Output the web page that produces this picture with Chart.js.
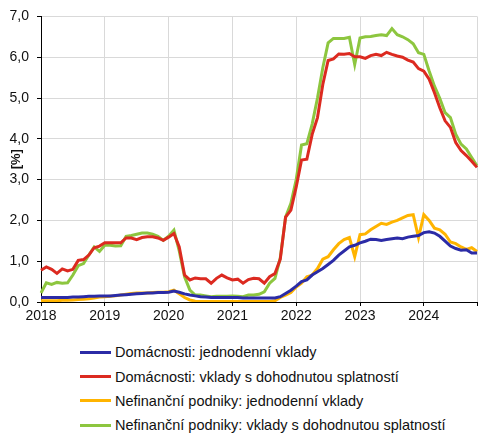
<!DOCTYPE html>
<html>
<head>
<meta charset="utf-8">
<script src="https://cdn.jsdelivr.net/npm/chart.js@4/dist/chart.umd.min.js"></script>
<style>
  body { margin: 0; background: #fff; font-family: "Liberation Sans", Arial, sans-serif; }
  #wrap { position: relative; width: 495px; height: 442px; }
  #legend { position: absolute; left: 80px; top: 340px; }
  .item { height: 24.4px; display: flex; align-items: center; font-size: 14.5px; color: #111; }
  .swatch { width: 31px; height: 3px; margin-right: 4px; }
</style>
</head>
<body>
<div id="wrap">
  <canvas id="myChart" width="495" height="330"></canvas>
  <div id="legend"></div>
</div>
<script>
// monthly data, Jan 2018 - Nov 2024
const startYear = 2018;
const monthCount = 83;
const months = [];
for (let i = 0; i < monthCount; i++) {
  const y = startYear + Math.floor(i / 12);
  const m = (i % 12) + 1;
  months.push(y + "-" + (m < 10 ? "0" + m : m));
}

const seriesNames = [
  "Domácnosti: jednodenní vklady",
  "Domácnosti: vklady s dohodnutou splatností",
  "Nefinanční podniky: jednodenní vklady",
  "Nefinanční podniky: vklady s dohodnutou splatností",
];

const hhOvernight = [
  0.11, 0.11, 0.11, 0.11, 0.11, 0.11, 0.12, 0.12, 0.13, 0.14, 0.14, 0.15,
  0.15, 0.15, 0.16, 0.17, 0.18, 0.19, 0.20, 0.21, 0.22, 0.22, 0.23, 0.23,
  0.24, 0.27, 0.24, 0.20, 0.17, 0.15, 0.13, 0.12, 0.11, 0.11, 0.11, 0.11,
  0.11, 0.11, 0.10, 0.10, 0.10, 0.10, 0.10, 0.10, 0.10, 0.13, 0.21, 0.29,
  0.39, 0.50, 0.54, 0.66, 0.74, 0.82, 0.92, 1.02, 1.15, 1.25, 1.35, 1.39,
  1.45, 1.49, 1.54, 1.53, 1.51, 1.53, 1.55, 1.57, 1.55, 1.59, 1.61, 1.63,
  1.70, 1.72, 1.69, 1.61, 1.49, 1.37, 1.31, 1.27, 1.28, 1.20, 1.20,
];

const hhTerm = [
  0.78, 0.86, 0.80, 0.70, 0.81, 0.76, 0.80, 1.02, 1.04, 1.15, 1.33, 1.37,
  1.45, 1.45, 1.45, 1.45, 1.57, 1.57, 1.53, 1.58, 1.60, 1.60, 1.57, 1.51,
  1.59, 1.68, 1.35, 0.66, 0.54, 0.59, 0.57, 0.57, 0.46, 0.58, 0.66, 0.59,
  0.54, 0.56, 0.46, 0.55, 0.58, 0.57, 0.46, 0.62, 0.70, 1.05, 2.08, 2.25,
  2.82, 3.48, 3.50, 4.11, 4.52, 5.33, 5.92, 5.96, 6.08, 6.07, 6.09, 6.01,
  6.01, 5.97, 6.04, 6.07, 6.04, 6.12, 6.07, 6.03, 6.00, 5.93, 5.88, 5.72,
  5.66, 5.46, 5.13, 4.76, 4.44, 4.28, 3.91, 3.71, 3.59, 3.45, 3.30,
];

const nfcOvernight = [
  0.03, 0.03, 0.03, 0.03, 0.04, 0.04, 0.05, 0.06, 0.07, 0.08, 0.10, 0.12,
  0.13, 0.14, 0.15, 0.17, 0.19, 0.21, 0.22, 0.22, 0.22, 0.23, 0.24, 0.24,
  0.25, 0.29, 0.20, 0.11, 0.05, 0.02, 0.01, 0.01, 0.01, 0.01, 0.01, 0.01,
  0.01, 0.01, 0.01, 0.01, 0.01, 0.01, 0.01, 0.01, 0.03, 0.11, 0.17, 0.23,
  0.37, 0.46, 0.62, 0.66, 0.82, 1.05, 1.11, 1.28, 1.43, 1.53, 1.58, 1.11,
  1.65, 1.67, 1.77, 1.85, 1.93, 1.90, 1.96, 2.00, 2.06, 2.12, 2.14, 1.58,
  2.14, 2.00, 1.81, 1.77, 1.66, 1.47, 1.43, 1.35, 1.29, 1.33, 1.24,
];

const nfcTerm = [
  0.22, 0.47, 0.43, 0.48, 0.46, 0.47, 0.66, 0.89, 0.94, 1.15, 1.35, 1.24,
  1.39, 1.39, 1.37, 1.38, 1.61, 1.63, 1.66, 1.69, 1.69, 1.66, 1.61, 1.51,
  1.61, 1.76, 1.25, 0.62, 0.29, 0.17, 0.17, 0.15, 0.13, 0.14, 0.14, 0.14,
  0.15, 0.14, 0.13, 0.17, 0.17, 0.19, 0.25, 0.46, 0.58, 1.08, 2.08, 2.42,
  3.00, 3.85, 3.88, 4.36, 5.00, 5.74, 6.35, 6.46, 6.46, 6.46, 6.49, 5.82,
  6.47, 6.50, 6.51, 6.53, 6.55, 6.53, 6.70, 6.55, 6.50, 6.43, 6.33, 6.11,
  6.07, 5.66, 5.29, 4.99, 4.64, 4.52, 4.11, 3.87, 3.75, 3.54, 3.34,
];

const yTicks = [0, 1, 2, 3, 4, 5, 6, 7];
const colors = ["#2b2ba6", "#dc2a20", "#ffb400", "#8dc63f"];

const seriesData = [hhOvernight, hhTerm, nfcOvernight, nfcTerm];

// year gridlines + right edge
const isYearLine = (i) => i % 12 === 0 || i === monthCount - 1;

const ctx = document.getElementById("myChart").getContext("2d");
const myChart = new Chart(ctx, {
  type: "line",
  data: {
    labels: months,
    datasets: seriesData.map((d, i) => ({
      label: seriesNames[i],
      data: d,
      borderColor: colors[i],
      backgroundColor: colors[i],
      borderWidth: 3,
      pointRadius: 0,
      tension: 0,
      fill: false,
    })),
  },
  options: {
    responsive: false,
    animation: false,
    devicePixelRatio: 1,
    layout: { padding: { top: 15, right: 18, left: 0, bottom: 0 } },
    plugins: {
      legend: { display: false },
      tooltip: { enabled: false },
    },
    scales: {
      x: {
        offset: false,
        grid: {
          color: (c) => (isYearLine(c.index) ? "#d9d9d9" : "rgba(0,0,0,0)"),
          tickColor: (c) =>
            isYearLine(c.index) ? "#000" : "rgba(0,0,0,0)",
          tickLength: 4,
        },
        border: { color: "#000", width: 1 },
        ticks: {
          autoSkip: false,
          maxRotation: 0,
          padding: 2,
          color: "#111",
          font: { family: "Liberation Sans", size: 14 },
          callback: (v, i) => (i % 12 === 0 ? String(startYear + i / 12) : ""),
        },
        afterFit: (scale) => {
          scale.height = 28;
        },
      },
      y: {
        min: yTicks[0],
        max: yTicks[yTicks.length - 1],
        afterBuildTicks: (scale) => {
          scale.ticks = yTicks.map((v) => ({ value: v }));
        },
        grid: { color: "#d9d9d9", tickColor: "#000", tickLength: 4 },
        border: { color: "#000", width: 1 },
        ticks: {
          padding: 8,
          color: "#111",
          font: { family: "Liberation Sans", size: 14 },
          callback: (v) => v.toFixed(1).replace(".", ","),
        },
        title: {
          display: true,
          text: "[%]",
          color: "#111",
          padding: { top: 9, bottom: 0 },
          font: { family: "Liberation Sans", size: 13, weight: "bold" },
        },
        afterFit: (scale) => {
          scale.width = 41;
        },
      },
    },
  },
});

// legend, one item per row
const legend = document.getElementById("legend");
seriesNames.forEach((name, i) => {
  const row = document.createElement("div");
  row.className = "item";
  const sw = document.createElement("span");
  sw.className = "swatch";
  sw.style.background = colors[i];
  const txt = document.createElement("span");
  txt.textContent = name;
  row.appendChild(sw);
  row.appendChild(txt);
  legend.appendChild(row);
});
</script>
</body>
</html>
